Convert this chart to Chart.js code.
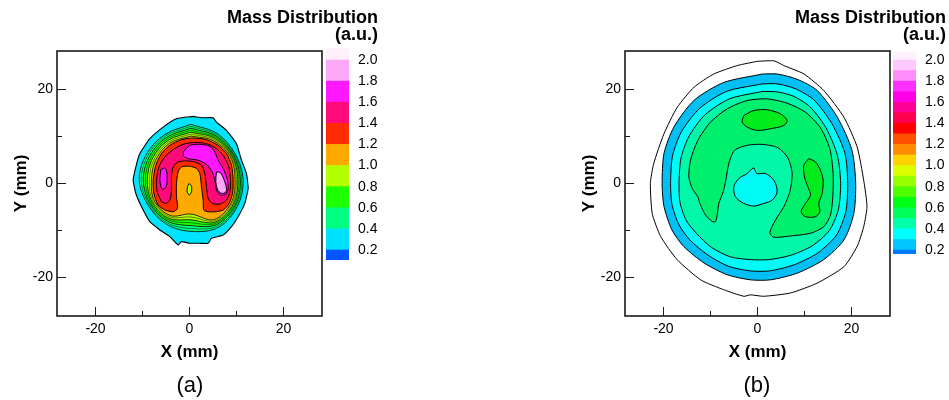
<!DOCTYPE html>
<html>
<head>
<meta charset="utf-8">
<title>Mass distribution contours</title>
<script src="https://cdn.jsdelivr.net/npm/chart.js"></script>
<style>
  body { margin: 0; background: #fff; width: 949px; height: 400px; position: relative; overflow: hidden;
         font-family: 'Liberation Sans', Arial, Helvetica, sans-serif; color: #000; }
  canvas { position: absolute; top: 0; }
  .cbtitle { position: absolute; top: 9px; font-weight: bold; font-size: 18px; line-height: 17px;
             text-align: right; white-space: nowrap; }
  .caption { position: absolute; top: 374px; width: 80px; font-size: 22px; line-height: 22px; text-align: center; }
</style>
</head>
<body>
<canvas id="plotA" width="340" height="400" style="left:0px"></canvas>
<canvas id="barA" width="80" height="300" style="left:300px"></canvas>
<canvas id="plotB" width="340" height="400" style="left:568px"></canvas>
<canvas id="barB" width="80" height="300" style="left:867px"></canvas>
<div class="cbtitle" style="right:571px">Mass Distribution<br>(a.u.)</div>
<div class="cbtitle" style="right:3px">Mass Distribution<br>(a.u.)</div>
<div class="caption" style="left:150px">(a)</div>
<div class="caption" style="left:717px">(b)</div>
<script>
const FONT = "'Liberation Sans', Arial, Helvetica, sans-serif";

// axes (mm)
const axisMin = -28.2, axisMax = 28.2;
const majorTicks = [-20, 0, 20];
const minorTicks = [-10, 10];

// colour bars
const barTicks = [0.2, 0.4, 0.6, 0.8, 1.0, 1.2, 1.4, 1.6, 1.8, 2.0];
const barLevelsA = [0.105, 0.2, 0.4, 0.6, 0.8, 1.0, 1.2, 1.4, 1.6, 1.8, 2.0, 2.114];
const barColorsA = ['#0055ff', '#00e1ff', '#00ff80', '#1eff00', '#b4ff00', '#ffaa00',
                    '#ff2a00', '#ff0a78', '#ff18ff', '#ffa8f8', '#fff0fc'];
const barLevelsB = [0.162, 0.2, 0.3, 0.4, 0.5, 0.6, 0.7, 0.8, 0.9, 1.0, 1.1,
                    1.2, 1.3, 1.4, 1.5, 1.6, 1.7, 1.8, 1.9, 2.0, 2.076];
const barColorsB = ['#0078ff', '#00c8ff', '#00ffff', '#00ffaa', '#00ff5a', '#00ff14', '#50ff00',
                    '#96ff00', '#dcff00', '#ffd200', '#ff8c00', '#ff5000', '#ff0000', '#ff0050',
                    '#ff0096', '#ff00e6', '#ff30ff', '#ff8cf8', '#ffc8ff', '#fff0ff'];

// ---- panel (a) contour lines, [x, y] in mm ----
const aLevel02 = [[0.78,14.28],[2.91,13.99],[5.04,13.99],[5.74,13.07],[7.87,11.31],[10.0,8.48],[11.06,4.95],
  [12.13,2.12],[12.48,-1.06],[11.77,-4.24],[10.35,-7.07],[8.94,-9.19],[7.16,-10.95],[4.68,-11.66],
  [3.97,-12.72],[2.20,-12.72],[0.07,-12.72],[-1.70,-12.37],[-2.41,-13.07],[-4.18,-11.31],[-6.31,-9.89],
  [-8.44,-8.13],[-10.21,-4.95],[-11.42,-2.12],[-11.99,0.71],[-11.42,3.53],[-10.57,6.36],[-8.44,9.54],
  [-5.60,12.01],[-2.77,13.78]];
const aLevel04 = [[0.3,12.6],[5.95,10.59],[9.74,6.25],[11.4,0.8],[10.17,-4.9],[6.15,-9.33],[0.3,-10.2],
  [-5.1,-8.55],[-8.88,-4.5],[-10.7,0.8],[-9.14,6.25],[-5.25,10.41]];
const aLevel05 = [[0.3,12.18],[5.81,10.34],[9.57,6.15],[11.12,0.8],[9.96,-4.78],[5.98,-9.03],[0.3,-9.58],
  [-4.94,-8.27],[-8.65,-4.37],[-10.27,0.8],[-8.81,6.06],[-5.08,10.11]];
const aLevel06 = [[0.3,11.77],[5.67,10.09],[9.39,6.05],[10.83,0.8],[9.74,-4.65],[5.8,-8.73],[0.3,-8.97],
  [-4.77,-7.97],[-8.42,-4.24],[-9.83,0.8],[-8.47,5.87],[-4.9,9.81]];
const aLevel07 = [[0.3,11.35],[5.53,9.85],[9.22,5.95],[10.55,0.8],[9.52,-4.53],[5.65,-8.47],[0.3,-8.35],
  [-4.6,-7.69],[-8.19,-4.1],[-9.4,0.8],[-8.14,5.68],[-4.73,9.5]];
const aLevel08 = [[0.3,10.93],[5.39,9.61],[9.05,5.85],[10.27,0.8],[9.31,-4.4],[5.5,-8.21],[0.3,-7.73],
  [-4.44,-7.4],[-7.95,-3.97],[-8.97,0.8],[-7.81,5.49],[-4.55,9.2]];
const aLevel09 = [[0.3,10.52],[5.24,9.36],[8.87,5.75],[9.98,0.8],[9.09,-4.28],[5.35,-7.95],[0.3,-7.12],
  [-4.27,-7.11],[-7.73,-3.84],[-8.53,0.8],[-7.48,5.29],[-4.38,8.9]];
const aLevel10 = [[0.3,10.1],[5.1,9.11],[8.7,5.65],[9.7,0.8],[8.87,-4.15],[5.2,-7.69],[0.3,-6.5],
  [-4.1,-6.82],[-7.49,-3.7],[-8.1,0.8],[-7.15,5.1],[-4.2,8.59]];
const aLevel12 = [[-5.25,-5.65],[-6.67,-4.59],[-7.59,-2.12],[-7.73,0.71],[-7.16,3.89],[-5.96,6.36],
  [-4.18,8.13],[-1.70,9.33],[0.78,9.68],[3.62,9.33],[6.10,8.13],[7.87,6.36],[8.94,3.89],[9.29,0.71],
  [9.15,-2.12],[8.44,-4.24],[7.16,-5.65],[5.39,-6.01],[3.97,-6.01],[3.05,-5.65],[2.91,-3.53],[2.55,-0.71],
  [2.20,2.12],[1.49,3.18],[0.07,3.67],[-1.70,3.53],[-2.41,2.47],[-2.77,0],[-2.77,-2.83],[-2.55,-5.30],
  [-3.48,-6.01]];
const aLevel14 = [[-5.96,-3.89],[-6.88,-1.77],[-7.02,0.71],[-6.52,3.53],[-5.25,5.65],[-3.48,7.21],
  [-1.35,8.34],[1.13,8.76],[3.62,8.48],[5.74,7.42],[7.30,5.80],[8.37,3.53],[8.72,0.71],[8.58,-1.77],
  [7.87,-3.53],[6.45,-4.38],[4.89,-4.24],[3.97,-3.18],[3.62,-0.71],[3.26,2.12],[2.55,3.89],[1.13,4.59],
  [-0.64,4.81],[-2.41,4.59],[-3.48,3.53],[-3.83,1.41],[-3.83,-1.41],[-4.18,-3.53],[-5.04,-4.24]];
const aLevel16Top = [[-1.35,6.71],[0.07,8.13],[2.20,8.34],[4.33,7.92],[5.39,6.71],[6.10,4.95],[7.16,3.18],
  [8.01,1.06],[8.23,-1.06],[7.73,-2.26],[6.60,-2.47],[5.74,-1.41],[5.39,0.71],[4.82,2.47],[3.62,4.10],
  [1.84,4.95],[-0.28,5.30],[-1.21,5.80]];
const aLevel16Left = [[-6.10,2.97],[-5.11,3.25],[-4.75,1.41],[-4.96,-0.71],[-5.82,-1.20],[-6.31,0.71]];
const aLevel18 = [[5.74,2.47],[6.60,2.26],[7.52,0.35],[7.87,-1.55],[7.02,-2.12],[6.10,-1.55],[5.60,0.35]];
const aDip10 = [[-0.07,0],[0.43,-0.57],[0.43,-1.77],[-0.07,-2.47],[-0.5,-1.77],[-0.43,-0.71]];

// ---- panel (b) contour lines, [x, y] in mm ----
const bLevel01 = [[-0.07,26.0],[3.5,26.1],[5.6,25.1],[9.9,23.3],[14.1,19.8],[18.4,14.1],[21.2,7.8],[22.6,0.7],
  [23.3,-4.9],[22.6,-9.2],[21.2,-13.4],[18.4,-17.7],[12.7,-21.2],[7.0,-23.3],[1.3,-24.0],[-1.5,-23.7],
  [-2.9,-24.0],[-7.2,-22.6],[-12.1,-20.5],[-17.1,-16.2],[-20.6,-11.3],[-22.4,-6.4],[-22.8,0],[-22.1,4.2],
  [-19.9,10.6],[-17.1,16.2],[-13.5,20.5],[-9.3,23.3],[-4.3,25.1]];
const bLevel02 = [[1.0,23.3],[4.2,23.3],[8.4,22.2],[12.7,19.8],[17.0,14.1],[20.1,7.1],[20.9,0],[20.5,-6.4],
  [18.4,-12.0],[14.1,-16.2],[8.4,-19.1],[2.8,-20.5],[-1.5,-20.5],[-6.5,-19.4],[-11.4,-16.9],[-15.7,-13.4],
  [-18.2,-9.9],[-19.9,-4.9],[-20.3,0],[-19.9,6.4],[-17.8,12.0],[-13.5,17.7],[-7.2,21.5]];
const bLevel03 = [[1,21.2],[4.2,21.2],[8.0,20.2],[12.0,17.8],[15.8,12.8],[18.6,6.5],[19.2,0],[18.8,-6.0],
  [16.8,-11.0],[12.8,-14.8],[7.8,-17.3],[2.6,-18.6],[-1.5,-18.6],[-6.2,-17.6],[-10.6,-15.2],[-14.4,-12.0],
  [-16.7,-8.8],[-18.2,-4.5],[-18.5,0],[-18.1,5.8],[-16.2,11.0],[-12.3,16.0],[-6.6,19.6]];
const bLevel04 = [[1,19.6],[4.2,19.5],[7.6,18.6],[11.2,16.3],[14.6,11.8],[17.0,6.0],[17.7,0],[17.2,-5.6],
  [15.3,-10.0],[11.6,-13.3],[7.0,-15.3],[2.4,-16.2],[-1.5,-16.2],[-5.8,-15.6],[-9.8,-13.6],[-13.0,-10.6],
  [-15.2,-7.8],[-16.5,-4.0],[-16.7,0],[-16.3,5.3],[-14.6,10.0],[-11.2,14.6],[-6.0,18.0]];
const bLevel05 = [[-9.65,-8.12],[-11.06,-6.71],[-12.27,-4.24],[-12.70,-2.82],[-13.90,-1.06],[-14.61,1.41],
  [-14.26,4.94],[-12.70,9.18],[-10.0,13.07],[-6.45,15.89],[-2.20,17.66],[2.06,18.01],[6.31,17.09],
  [10.21,15.18],[13.40,11.86],[15.39,7.42],[16.10,2.12],[16.03,-2.82],[15.53,-6.71],[14.11,-9.18],
  [11.28,-10.59],[7.02,-11.16],[3.48,-11.44],[2.62,-10.45],[3.83,-7.77],[5.60,-4.94],[6.88,-1.77],
  [7.38,2.12],[6.45,5.51],[4.33,7.63],[0.99,8.33],[-2.20,8.12],[-4.89,7.06],[-6.10,4.24],[-6.74,0.71],
  [-7.30,-1.77],[-8.23,-4.24],[-8.58,-6.71],[-8.94,-8.12]];
const bLevel06Top = [[-2.91,14.48],[-0.78,15.54],[2.06,15.68],[4.89,14.83],[6.31,13.42],[5.60,12.36],
  [2.77,11.65],[-0.07,11.30],[-2.20,12.01],[-3.26,13.07]];
const bLevel06Right = [[10.92,5.30],[12.34,4.59],[13.40,2.82],[13.97,0.71],[13.76,-2.12],[13.05,-4.24],
  [13.26,-6.0],[12.34,-7.06],[10.21,-7.06],[9.29,-6.0],[10.21,-4.24],[11.28,-2.47],[10.71,-0.71],
  [10.0,1.41],[9.86,3.88]];
const bHole04 = [[-0.78,3.32],[-0.07,2.12],[1.70,2.12],[3.48,0.71],[4.18,-1.77],[3.12,-3.53],[1.35,-4.24],
  [-0.78,-4.80],[-2.91,-4.24],[-4.68,-2.82],[-5.04,-0.71],[-3.97,1.06],[-2.20,2.12],[-1.13,3.18]];

// paint order: outermost first; [points, fill colour, line width, tension]
const layersA = [
  [aLevel02, '#00e4ff', 1.1, 0.15],
  [aLevel04, '#00ff80', 0.8, 0.35],
  [aLevel05, '#00ff80', 0.5, 0.35],
  [aLevel06, '#1eff00', 0.8, 0.35],
  [aLevel07, '#1eff00', 0.5, 0.35],
  [aLevel08, '#b4ff00', 0.8, 0.35],
  [aLevel09, '#b4ff00', 0.5, 0.35],
  [aLevel10, '#ffaa00', 0.8, 0.35],
  [aLevel12, '#ff2a00', 1, 0.25],
  [aLevel14, '#ff0a78', 1, 0.25],
  [aLevel16Top, '#ff18ff', 1, 0.25],
  [aLevel16Left, '#ff18ff', 1, 0.3],
  [aLevel18, '#ffa8f8', 1, 0.3],
  [aDip10, '#b4ff00', 1, 0.2]
];
const layersB = [
  [bLevel01, null, 1, 0.2],
  [bLevel02, '#00bff5', 1, 0.25],
  [bLevel03, '#00fbf6', 1, 0.25],
  [bLevel04, '#00f8a8', 1, 0.25],
  [bLevel05, '#00f06e', 1, 0.25],
  [bLevel06Top, '#00ec1c', 1, 0.3],
  [bLevel06Right, '#00ec1c', 1, 0.3],
  [bHole04, '#00fbf6', 1, 0.3]
];

// box round the plot and inward tick marks on the bottom and left axes
const frameTicks = {
  id: 'frameTicks',
  afterDatasetsDraw(chart) {
    const {ctx, chartArea: a, scales: {x, y}} = chart;
    ctx.save();
    ctx.strokeStyle = '#1a1a1a';
    ctx.lineWidth = 1;
    ctx.beginPath();
    const mark = (vals, len) => vals.forEach(v => {
      const px = x.getPixelForValue(v), py = y.getPixelForValue(v);
      ctx.moveTo(px, a.bottom); ctx.lineTo(px, a.bottom - len);
      ctx.moveTo(a.left, py); ctx.lineTo(a.left + len, py);
    });
    mark(majorTicks, 9);
    mark(minorTicks, 5);
    ctx.stroke();
    ctx.lineWidth = 1.6;
    ctx.strokeRect(a.left, a.top, a.right - a.left, a.bottom - a.top);
    ctx.restore();
  }
};

function axis(title, pos) {
  const horizontal = pos === 'bottom';
  return {
    type: 'linear',
    position: pos,
    min: axisMin,
    max: axisMax,
    afterBuildTicks: s => { s.ticks = majorTicks.map(v => ({value: v})); },
    afterFit: s => { if (horizontal) s.height = 84; else s.width = 57; },
    grid: {display: false, drawTicks: false},
    border: {display: false},
    ticks: {color: '#000', font: {family: FONT, size: 14}, padding: horizontal ? 5 : 4,
            maxRotation: 0, autoSkip: false},
    title: {display: true, text: title, color: '#000',
            font: {family: FONT, size: 17, weight: 'bold'},
            padding: horizontal ? {top: 0, bottom: 37} : {top: 11, bottom: 0}}
  };
}

function contourChart(id, layers) {
  const datasets = layers.map(([pts, fill, width, tension]) => ({
    data: pts.concat([pts[0]]).map(p => ({x: p[0], y: p[1]})),
    showLine: true,
    fill: fill ? 'shape' : false,
    backgroundColor: fill || 'transparent',
    borderColor: '#000',
    borderWidth: width,
    tension: tension,
    pointRadius: 0
  })).reverse();   // Chart.js paints dataset 0 last
  return new Chart(document.getElementById(id), {
    type: 'scatter',
    data: {datasets},
    options: {
      responsive: false,
      animation: false,
      events: [],
      layout: {padding: {left: 0, top: 51, right: 18, bottom: 0}},
      plugins: {legend: {display: false}, tooltip: {enabled: false}},
      scales: {x: axis('X (mm)', 'bottom'), y: axis('Y (mm)', 'left')}
    },
    plugins: [frameTicks]
  });
}

function colorBar(id, levels, colors, padTop, padBottom) {
  return new Chart(document.getElementById(id), {
    type: 'bar',
    data: {
      labels: [''],
      datasets: colors.map((c, i) => ({
        data: [[levels[i], levels[i + 1]]],
        backgroundColor: c,
        borderWidth: 0,
        barPercentage: 1,
        categoryPercentage: 1,
        grouped: false
      }))
    },
    options: {
      responsive: false,
      animation: false,
      events: [],
      layout: {padding: {left: 26, top: padTop, right: 0, bottom: padBottom}},
      plugins: {legend: {display: false}, tooltip: {enabled: false}},
      scales: {
        x: {display: false},
        y: {
          position: 'right',
          min: levels[0],
          max: levels[levels.length - 1],
          afterBuildTicks: s => { s.ticks = barTicks.map(v => ({value: v})); },
          afterFit: s => { s.width = 31; },
          grid: {display: false, drawTicks: false},
          border: {display: false},
          ticks: {color: '#000', font: {family: FONT, size: 14}, padding: 9,
                  callback: v => Number(v).toFixed(1)}
        }
      }
    }
  });
}

contourChart('plotA', layersA);
contourChart('plotB', layersB);
colorBar('barA', barLevelsA, barColorsA, 48, 40);
colorBar('barB', barLevelsB, barColorsB, 52, 46);
</script>
</body>
</html>
